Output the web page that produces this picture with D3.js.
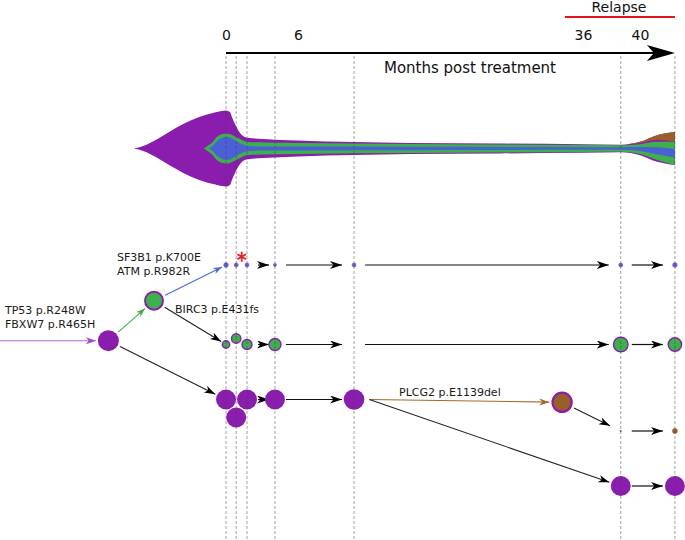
<!DOCTYPE html>
<html>
<head>
<meta charset="utf-8">
<title>Clonal evolution fish plot</title>
<script src="https://cdn.jsdelivr.net/npm/d3@7"></script>
<style>
  body { margin: 0; background: #fff; }
  svg { display: block; font-family: "DejaVu Sans", Verdana, sans-serif; }
</style>
</head>
<body>
<script>
var w = 685, h = 540;

// time axis
var tickMonths = [0, 6, 36, 40];
var tickLabels = ["0", "6", "36", "40"];
var sampleMonths = [0, 0.85, 1.75, 4.08, 11.9, 38.65, 42.45];
var relapseSpan = [34.1, 42.45];

// fish plot: clone widths (% of the peak width) at each month
var fishMonths = [-7.67, -6.9, -5.78, -4.67, -3.56, -2.44, -1.92, -1.5, -1.17, -0.75, 0, 0.33, 0.5, 0.92, 1.17, 1.42, 1.83, 3.08, 6, 17.8, 27.3, 36, 38.67, 40, 41.2, 42.45];
var purpleSize = [0, 6.6, 23.7, 44.7, 64.4, 80.2, 86, 90, 93, 96, 100, 96, 82, 54, 41, 33, 28, 25, 21, 14.5, 13, 11, 10, 17.5, 35, 43.5];
var greenSize  = [0, 0, 0, 0, 0, 0, 0, 8, 15, 31, 39.5, 38, 35.5, 29, 25, 21, 17, 16, 14.5, 12, 10.5, 9, 8.7, 13, 24, 30.7];
var blueSize   = [0, 0, 0, 0, 0, 0, 0, 0, 5, 19, 30, 29, 26, 18.4, 14, 10.5, 6.6, 5.3, 5, 4.5, 4, 3.4, 3.2, 5.3, 9.2, 11];
var brownSize  = [0, 0, 0, 0, 0, 0, 0, 0, 0, 0, 0, 0, 0, 0, 0, 0, 0, 0, 0, 0, 0, 0, 0, 1.5, 6, 12.8];

// cell fraction of each clone per sample (null = not seen)
var laneNames   = ["SF3B1", "BIRC3", "TP53", "PLCG2", "relapse"];
var sf3b1Frac   = [4.8, 3.6, 3.6, 2, 3.6, 3.6, 4.8];
var birc3Frac   = [12.4, 20, 22.7, 32.7, null, 48, 40.7];
var tp53Frac    = [90, 90, 90, 90, 96, null, null];
var plcg2Frac   = [null, null, null, null, null, 0.9, 6.6];
var relapseFrac = [null, null, null, null, null, 90, 90];

// mutation labels
var rootMuts   = ["TP53 p.R248W", "FBXW7 p.R465H"];
var sf3b1Muts  = ["SF3B1 p.K700E", "ATM p.R982R"];
var birc3Muts  = ["BIRC3 p.E431fs"];
var plcg2Muts  = ["PLCG2 p.E1139del"];

var purple = "#8b1dae", green = "#3cb14a", blue = "#4b60d6", brown = "#9a5e27";

var svg = d3.select("body").append("svg").attr("width", w).attr("height", h);

var x = d3.scaleLinear().domain(tickMonths).range([226, 298, 583, 640]);
var fishY = d3.scaleLinear().domain([-50, 50]).range([110.5, 186.5]);
var laneY = d3.scaleOrdinal()
    .domain(["SF3B1", "branch", "root", "BIRC3", "TP53", "plcg2node", "PLCG2", "relapse"])
    .range([265, 300.7, 340.7, 344.5, 399.5, 402.3, 431, 486]);
var r = d3.scaleSqrt().domain([0, 100]).range([0, 10.5]);

// ---- fish plot
var fish = fishMonths.map(function(m, i) {
    var P = purpleSize[i], G = greenSize[i], B = blueSize[i], Br = brownSize[i];
    var mid = Br / 2;
    return { m: m,
        p0: -P / 2, p1: P / 2,
        br0: -P / 2, br1: -P / 2 + Br,
        g0: mid - G / 2, g1: mid + G / 2,
        b0: mid - B / 2, b1: mid + B / 2 };
});
function band(a, b) {
    return d3.area().curve(d3.curveMonotoneX)
        .x(function(d) { return x(d.m); })
        .y0(function(d) { return fishY(d[a]); })
        .y1(function(d) { return fishY(d[b]); });
}
var fg = svg.append("g");
fg.append("path").attr("d", band("p0", "p1")(fish)).attr("fill", purple);
fg.append("path").attr("d", band("g0", "g1")(fish)).attr("fill", green);
fg.append("path").attr("d", band("b0", "b1")(fish)).attr("fill", blue);
fg.append("path").attr("d", band("br0", "br1")(fish)).attr("fill", brown);

// ---- axis
var axisY = 53;
var ax = svg.append("g").attr("transform", "translate(0," + axisY + ")")
    .call(d3.axisTop(x).tickValues(tickMonths).tickFormat(function(d, i) { return tickLabels[i]; })
        .tickSize(0).tickPadding(13));
ax.select(".domain").remove();
ax.selectAll("text").attr("font-size", 14).attr("font-family", "DejaVu Sans").attr("fill", "#111");

var xEnd = x(sampleMonths[6]);
svg.append("line").attr("x1", x(0)).attr("x2", xEnd - 20).attr("y1", axisY).attr("y2", axisY)
    .attr("stroke", "#000").attr("stroke-width", 2);
svg.append("path")
    .attr("d", "M" + xEnd + "," + axisY + " L" + (xEnd - 28) + "," + (axisY - 8) +
        " L" + (xEnd - 21) + "," + axisY + " L" + (xEnd - 28) + "," + (axisY + 8) + " Z")
    .attr("fill", "#000");
svg.append("text").attr("x", 470).attr("y", 73).attr("text-anchor", "middle")
    .attr("font-size", 15).attr("fill", "#111").text("Months post treatment");

svg.append("line").attr("x1", x(relapseSpan[0])).attr("x2", x(relapseSpan[1]))
    .attr("y1", 17).attr("y2", 17).attr("stroke", "#e3161c").attr("stroke-width", 2);
svg.append("text").attr("x", 619).attr("y", 12).attr("text-anchor", "middle")
    .attr("font-size", 14).attr("fill", "#111").text("Relapse");

// ---- arrow markers
var defs = svg.append("defs");
function marker(id, col, len, wid) {
    defs.append("marker").attr("id", id).attr("markerUnits", "userSpaceOnUse")
        .attr("markerWidth", len + 2).attr("markerHeight", wid + 2)
        .attr("refX", len).attr("refY", wid / 2).attr("orient", "auto")
        .append("path")
        .attr("d", "M0,0 L" + len + "," + wid / 2 + " L0," + wid + " L" + (len * 0.28) + "," + wid / 2 + " Z")
        .attr("fill", col);
}
marker("aRow", "#000", 12, 8);
marker("aBlack", "#000", 11, 7.5);
marker("aGreen", green, 9, 6.5);
marker("aBlue", "#4a68dc", 9, 6.5);
marker("aBrown", "#a4692c", 10, 7);
marker("aPurple", "#a548cb", 10, 7);

// ---- lanes
var lanes = [
    { key: "SF3B1", frac: sf3b1Frac, fill: blue, stroke: "#9a55c8", sw: 0.7 },
    { key: "BIRC3", frac: birc3Frac, fill: green, stroke: purple, sw: 1.4 },
    { key: "TP53", frac: tp53Frac, fill: purple, stroke: "none", sw: 0 },
    { key: "PLCG2", frac: plcg2Frac, fill: brown, stroke: "none", sw: 0 },
    { key: "relapse", frac: relapseFrac, fill: purple, stroke: "none", sw: 0 }
];
// crowded samples nudged off the lane
var dodge = { BIRC3: { 1: -6 }, TP53: { 1: 18 } };

function samplePos(key, i) {
    var ln = lanes.filter(function(l) { return l.key === key; })[0];
    var dy = (dodge[key] && dodge[key][i]) || 0;
    return { x: x(sampleMonths[i]), y: laneY(key) + dy, r: r(ln.frac[i]) };
}

// row arrows between samples
var rowArrows = [];
lanes.forEach(function(ln) {
    for (var i = 2; i < sampleMonths.length - 1; i++) {
        var before = ln.frac.slice(0, i + 1).some(function(v) { return v != null; });
        var after = ln.frac.slice(i + 1).some(function(v) { return v != null; });
        if (before && after) {
            var x0 = x(sampleMonths[i]) + 11;
            var x1 = Math.max(x(sampleMonths[i + 1]) - 12, x0 + 11);
            rowArrows.push({ x0: x0, x1: x1, y: laneY(ln.key) });
        }
    }
});
svg.append("g").selectAll("line").data(rowArrows).enter().append("line")
    .attr("x1", function(d) { return d.x0; }).attr("x2", function(d) { return d.x1; })
    .attr("y1", function(d) { return d.y; }).attr("y2", function(d) { return d.y; })
    .attr("stroke", "#111").attr("stroke-width", 1.2).attr("marker-end", "url(#aRow)");

// ---- tree nodes
var treeNodes = {
    root:   { month: -9.8, lane: "root", frac: 100, fill: purple, stroke: "none", sw: 0 },
    branch: { month: -6.0, lane: "branch", frac: 73, fill: green, stroke: purple, sw: 2 },
    plcg2:  { month: 33.8, lane: "plcg2node", frac: 84, fill: brown, stroke: purple, sw: 2.2 }
};
function nodePos(id) {
    var n = treeNodes[id];
    return { x: x(n.month), y: laneY(n.lane), r: r(n.frac) + n.sw / 2 };
}

var edges = [
    { from: { x: 0, y: laneY("root"), r: -2.5 }, to: nodePos("root"), col: "#b467d8", m: "aPurple" },
    { from: nodePos("root"), to: nodePos("branch"), col: green, m: "aGreen" },
    { from: nodePos("branch"), to: samplePos("SF3B1", 0), col: "#4a68dc", m: "aBlue" },
    { from: nodePos("branch"), to: samplePos("BIRC3", 0), col: "#222", m: "aBlack" },
    { from: nodePos("root"), to: samplePos("TP53", 0), col: "#222", m: "aBlack" },
    { from: samplePos("TP53", 4), side: true, to: nodePos("plcg2"), col: "#a4692c", m: "aBrown" },
    { from: nodePos("plcg2"), to: samplePos("PLCG2", 5), padEnd: 12, col: "#222", m: "aBlack" },
    { from: samplePos("TP53", 4), side: true, to: samplePos("relapse", 5), col: "#222", m: "aBlack" }
];
edges.forEach(function(e) {
    var a = e.from, b = e.to;
    var dx = b.x - a.x, dy = b.y - a.y, len = Math.sqrt(dx * dx + dy * dy);
    var ux = dx / len, uy = dy / len;
    var sx, sy;
    if (e.side) { sx = a.x + a.r + 5; sy = a.y; }
    else { sx = a.x + ux * (a.r + 2.5); sy = a.y + uy * (a.r + 2.5); }
    var pe = e.padEnd || (b.r + 2);
    var ex = b.x - ux * pe, ey = b.y - uy * pe;
    svg.append("line").attr("x1", sx).attr("y1", sy).attr("x2", ex).attr("y2", ey)
        .attr("stroke", e.col).attr("stroke-width", 1.1).attr("marker-end", "url(#" + e.m + ")");
});

// lane circles
lanes.forEach(function(ln) {
    var pts = [];
    ln.frac.forEach(function(v, i) { if (v != null) pts.push(samplePos(ln.key, i)); });
    svg.append("g").selectAll("circle").data(pts).enter().append("circle")
        .attr("cx", function(d) { return d.x; }).attr("cy", function(d) { return d.y; })
        .attr("r", function(d) { return d.r; })
        .attr("fill", ln.fill).attr("stroke", ln.stroke).attr("stroke-width", ln.sw);
});

// tree circles
d3.keys = Object.keys;
Object.keys(treeNodes).forEach(function(id) {
    var n = treeNodes[id];
    svg.append("circle").attr("cx", x(n.month)).attr("cy", laneY(n.lane)).attr("r", r(n.frac))
        .attr("fill", n.fill).attr("stroke", n.stroke).attr("stroke-width", n.sw);
});

// dashed sample lines (drawn over the marks, as in the figure)
svg.append("g").selectAll("line").data(sampleMonths).enter().append("line")
    .attr("x1", function(d) { return x(d); }).attr("x2", function(d) { return x(d); })
    .attr("y1", axisY + 3).attr("y2", h)
    .attr("stroke", "#444").attr("stroke-opacity", 0.55).attr("stroke-width", 0.9)
    .attr("stroke-dasharray", "3,2");

// red asterisk at the second sample
var ast = svg.append("g").attr("transform", "translate(241.7,256.7)");
[90, 30, 150].forEach(function(a) {
    var rad = a * Math.PI / 180;
    ast.append("line").attr("x1", -5 * Math.cos(rad)).attr("y1", -5 * Math.sin(rad))
        .attr("x2", 5 * Math.cos(rad)).attr("y2", 5 * Math.sin(rad))
        .attr("stroke", "#ee1c24").attr("stroke-width", 1.8);
});

// labels
function label(lines, lx, ly) {
    svg.append("g").selectAll("text").data(lines).enter().append("text")
        .attr("x", lx).attr("y", function(d, i) { return ly + i * 13.5; })
        .attr("font-size", 11).attr("fill", "#1a1a1a").text(function(d) { return d; });
}
label(rootMuts, 5, 314);
label(sf3b1Muts, 117, 261);
label(birc3Muts, 175, 313.3);
label(plcg2Muts, 399, 396);
</script>
</body>
</html>
